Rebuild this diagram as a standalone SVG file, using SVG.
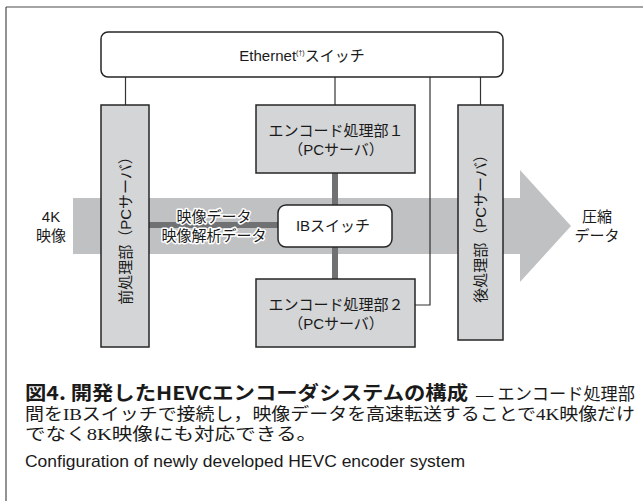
<svg xmlns="http://www.w3.org/2000/svg" width="643" height="501" viewBox="0 0 643 501">
  <style>
    .jp { font-family: "Liberation Sans", "Noto Sans CJK JP", sans-serif; fill: #1a1a1a; }
    .lbl { font-size: 15px; text-anchor: middle; }
    .box { fill: #d4d5d7; stroke: #262626; stroke-width: 1.5; }
    .sw { fill: #ffffff; stroke: #262626; stroke-width: 1.5; }
    .wire { fill: none; stroke: #333333; stroke-width: 1.2; }
    .ib { fill: none; stroke: #707173; stroke-width: 6; }
    .halo { paint-order: stroke; stroke: #ffffff; stroke-width: 3; stroke-linejoin: round; }
    .cap { font-family: "Liberation Serif", "Noto Sans CJK JP", serif; font-size: 17px; fill: #1a1a1a; }
    .capb { font-family: "Noto Sans CJK JP", sans-serif; font-size: 19px; font-weight: bold; fill: #1a1a1a; }
    .en { font-family: "Liberation Sans", "Noto Sans", sans-serif; font-size: 17px; fill: #1a1a1a; }
  </style>

  <rect width="643" height="501" fill="#ffffff"/>

  <!-- frame -->
  <g id="frame" stroke="#4a4a4a" stroke-width="1.2" fill="none">
    <line x1="6" y1="7" x2="643" y2="7"/>
    <line x1="6" y1="7" x2="6" y2="501"/>
  </g>

  <!-- data flow arrow -->
  <g id="flow-arrow">
    <polygon points="73,198 520,198 520,170 571,226 520,282 520,254 73,254" fill="#c0c1c3"/>
  </g>

  <!-- connectors -->
  <g id="connectors">
    <line class="wire" x1="125.5" y1="77" x2="125.5" y2="105"/>
    <line class="wire" x1="335" y1="77" x2="335" y2="105"/>
    <line class="wire" x1="480.5" y1="77" x2="480.5" y2="105"/>
    <polyline class="wire" points="430,77 430,305 415,305"/>
    <line class="ib" x1="335" y1="173" x2="335" y2="279"/>
    <line class="ib" x1="149" y1="225" x2="278" y2="225"/>
  </g>

  <g id="ethernet-switch">
    <rect class="sw" x="101" y="32" width="402" height="45" rx="7"/>
    <text class="jp" x="302" y="61" font-size="15" text-anchor="middle">Ethernet<tspan font-size="7" dy="-6">(†)</tspan><tspan dy="6">スイッチ</tspan></text>
  </g>

  <g id="pre-processing">
    <rect class="box" x="101" y="105" width="48" height="242"/>
    <text class="jp lbl" transform="translate(125,227) rotate(-90)" y="5.5">前処理部（PCサーバ）</text>
  </g>

  <g id="post-processing">
    <rect class="box" x="458" y="105" width="45" height="235"/>
    <text class="jp lbl" transform="translate(480.5,225) rotate(-90)" y="5.5">後処理部（PCサーバ）</text>
  </g>

  <g id="encoder-1">
    <rect class="box" x="256" y="105" width="159" height="68"/>
    <text class="jp lbl" x="336" y="136">エンコード処理部１</text>
    <text class="jp lbl" x="336" y="155">（PCサーバ）</text>
  </g>

  <g id="encoder-2">
    <rect class="box" x="256" y="279" width="159" height="68"/>
    <text class="jp lbl" x="336" y="310">エンコード処理部２</text>
    <text class="jp lbl" x="336" y="329">（PCサーバ）</text>
  </g>

  <g id="ib-switch">
    <rect class="sw" x="278" y="205" width="114" height="42" rx="8"/>
    <text class="jp lbl" x="333" y="231">IBスイッチ</text>
  </g>

  <g id="labels">
    <text class="jp lbl halo" x="214" y="222">映像データ</text>
    <text class="jp lbl halo" x="214" y="241">映像解析データ</text>
    <text class="jp lbl" x="51" y="222">4K</text>
    <text class="jp lbl" x="51" y="241">映像</text>
    <text class="jp lbl" x="597" y="222">圧縮</text>
    <text class="jp lbl" x="597" y="241">データ</text>
  </g>

  <!-- caption -->
  <g id="caption">
    <text class="capb" x="25" y="400" textLength="443" lengthAdjust="spacingAndGlyphs">図4.  開発したHEVCエンコーダシステムの構成</text>
    <text class="cap" x="476" y="400" textLength="159" lengthAdjust="spacingAndGlyphs">— エンコード処理部</text>
    <text class="cap" x="25" y="420" textLength="610" lengthAdjust="spacingAndGlyphs">間をIBスイッチで接続し，映像データを高速転送することで4K映像だけ</text>
    <text class="cap" x="25" y="440" textLength="292" lengthAdjust="spacingAndGlyphs">でなく8K映像にも対応できる。</text>
    <text class="en" x="25" y="467" textLength="440" lengthAdjust="spacingAndGlyphs">Configuration of newly developed HEVC encoder system</text>
  </g>
</svg>
